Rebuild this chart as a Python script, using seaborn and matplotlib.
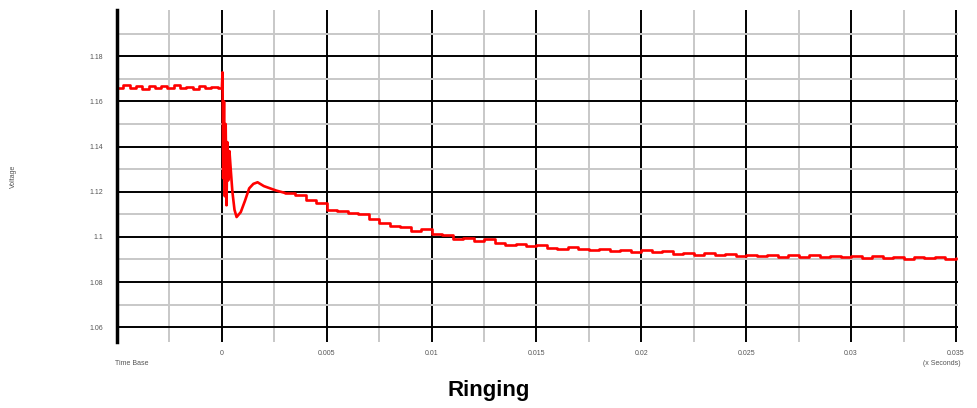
import numpy as np
import matplotlib
matplotlib.use("Agg")
import matplotlib.pyplot as plt
import seaborn as sns

sns.set_style("white")
plt.rcParams['font.family'] = ['Liberation Sans', 'DejaVu Sans']

# flat level before the step (quantized ripple)
t_pre = np.arange(-0.005, 0.0, 0.0003)
v_pre = [1.1660, 1.1672, 1.1660, 1.1668, 1.1656, 1.1670, 1.1660, 1.1668,
         1.1658, 1.1672, 1.1660, 1.1666, 1.1656, 1.1670, 1.1660, 1.1666, 1.1660]

# ringing right after the step
t_ring = [0.0, 0.00003, 0.00006, 0.0001, 0.00014, 0.00018, 0.00022, 0.00026,
          0.0003, 0.00036, 0.00042, 0.0005, 0.0006, 0.0007, 0.0009, 0.0011,
          0.0013, 0.0015, 0.0017, 0.002, 0.0023, 0.0026, 0.003]
v_ring = [1.1663, 1.1729, 1.1260, 1.1600, 1.1180, 1.1500, 1.1140, 1.1420,
          1.1250, 1.1380, 1.1300, 1.1200, 1.1120, 1.1088, 1.1110, 1.1160,
          1.1215, 1.1235, 1.1242, 1.1225, 1.1215, 1.1205, 1.1195]

# slow decay
t_dec = np.arange(0.003, 0.03501, 0.0005)
v_dec = [1.1195, 1.1185, 1.1165, 1.1150, 1.1120, 1.1115, 1.1105, 1.1100,
         1.1078, 1.1060, 1.1050, 1.1042, 1.1028, 1.1036, 1.1012, 1.1008,
         1.0990, 1.0994, 1.0984, 1.0990, 1.0972, 1.0966, 1.0970, 1.0958,
         1.0962, 1.0950, 1.0948, 1.0956, 1.0945, 1.0944, 1.0948, 1.0938,
         1.0944, 1.0934, 1.0940, 1.0932, 1.0938, 1.0926, 1.0930, 1.0922,
         1.0930, 1.0920, 1.0926, 1.0914, 1.0922, 1.0914, 1.0920, 1.0912,
         1.0918, 1.0912, 1.0918, 1.0910, 1.0916, 1.0910, 1.0914, 1.0906,
         1.0914, 1.0908, 1.0912, 1.0904, 1.0912, 1.0906, 1.0910, 1.0904,
         1.0908]

x_ticks = [0.0, 0.005, 0.01, 0.015, 0.02, 0.025, 0.03, 0.035]
x_labels = ["0", "0.005", "0.01", "0.015", "0.02", "0.025", "0.03", "0.035"]
y_ticks = [1.06, 1.08, 1.10, 1.12, 1.14, 1.16, 1.18]
y_labels = ["1.06", "1.08", "1.1", "1.12", "1.14", "1.16", "1.18"]

fig = plt.figure(figsize=(9.77, 4.08), dpi=100)
ax = fig.add_axes([0.1198, 0.162, 0.8608, 0.8135])

red = "#ff0000"
sns.lineplot(x=list(t_pre) + [0.0], y=v_pre + [v_pre[-1]], ax=ax, color=red,
             lw=1.9, drawstyle="steps-post", estimator=None, sort=False)
sns.lineplot(x=t_ring, y=v_ring, ax=ax, color=red, lw=1.9,
             estimator=None, sort=False)
sns.lineplot(x=t_dec, y=v_dec, ax=ax, color=red, lw=1.9,
             drawstyle="steps-post", estimator=None, sort=False)

ax.set_xlim(-0.005, 0.0351)
ax.set_ylim(1.0535, 1.2005)

# grid: black majors, grey minors
ax.set_xticks(x_ticks)
ax.set_xticks(np.arange(-0.0025, 0.035, 0.005), minor=True)
ax.set_yticks(y_ticks)
ax.set_yticks(np.arange(1.07, 1.20, 0.02), minor=True)
ax.grid(which="major", color="black", lw=1.4, zorder=0)
ax.grid(which="minor", color="#c8c8c8", lw=1.4, zorder=0)
ax.set_axisbelow(True)

ax.set_xticklabels(x_labels, fontsize=5, color="#555555")
ax.set_yticklabels(y_labels, fontsize=5, color="#555555")
ax.tick_params(axis="y", which="major", length=6, width=1.5, color="black", pad=4)
ax.tick_params(axis="x", which="both", length=0, pad=6)
ax.tick_params(axis="y", which="minor", length=0)

for s in ["top", "right", "bottom"]:
    ax.spines[s].set_visible(False)
ax.spines["left"].set_color("black")
ax.spines["left"].set_linewidth(2.5)

ax.set_xlabel("")
ax.set_ylabel("Voltage", fontsize=5, color="#555555", labelpad=52)

fig.text(0.118, 0.105, "Time Base", fontsize=5, color="#555555", ha="left")
fig.text(0.983, 0.105, "(x Seconds)", fontsize=5, color="#555555", ha="right")
fig.text(0.5, 0.03, "Ringing", fontsize=16, fontweight="bold", ha="center",
         color="black")

fig.savefig("out.png", dpi=100)
